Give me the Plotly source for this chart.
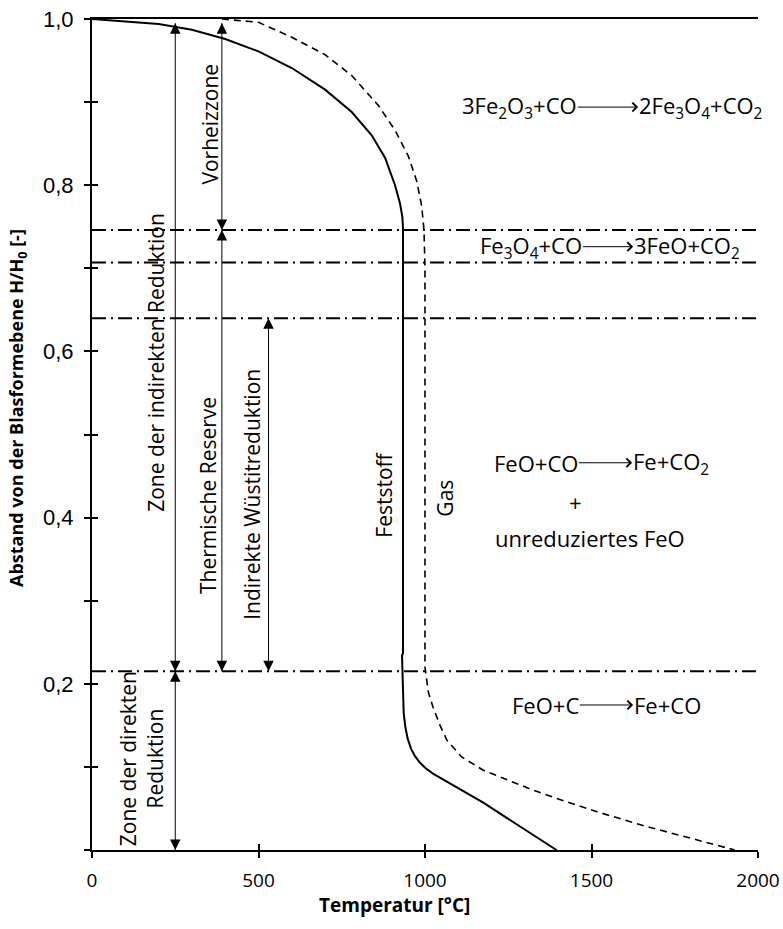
import plotly.graph_objects as go

# ---------------- data ----------------
solid_T = [0, 100, 200, 300, 400, 500, 600, 700, 780, 840, 880, 910, 925, 932, 934,
           934, 934, 931, 932, 933, 936, 941, 948, 958, 970, 985, 1003, 1024, 1050, 1075, 1175, 1275, 1395]
solid_H = [1.0, 0.997, 0.994, 0.987, 0.976, 0.961, 0.941, 0.915, 0.888, 0.860, 0.833, 0.800, 0.778, 0.762, 0.748,
           0.500, 0.237, 0.234, 0.215, 0.190, 0.165, 0.148, 0.134, 0.122, 0.113, 0.105, 0.098, 0.092, 0.086, 0.080,
           0.057, 0.031, 0.0]

gas_T = [390, 500, 600, 700, 780, 860, 910, 950, 975, 990, 997, 1000, 1000,
         1003, 1010, 1024, 1045, 1066, 1110, 1175, 1250, 1325, 1425, 1525, 1650, 1800, 1930]
gas_H = [1.0, 0.996, 0.978, 0.957, 0.932, 0.896, 0.866, 0.835, 0.805, 0.775, 0.746, 0.700, 0.220,
         0.210, 0.190, 0.172, 0.150, 0.132, 0.112, 0.096, 0.084, 0.072, 0.058, 0.045, 0.030, 0.014, 0.0]

zone_bounds = [0.746, 0.707, 0.640, 0.215]

x_ticks = [0, 500, 1000, 1500, 2000]
y_major = [0.2, 0.4, 0.6, 0.8, 1.0]
y_major_text = ["0,2", "0,4", "0,6", "0,8", "1,0"]
y_minor = [0.0, 0.1, 0.3, 0.5, 0.7, 0.9]

# dimension arrows: (temperature, H top, H bottom)
dim_arrows = [(250, 0.995, 0.215), (250, 0.215, 0.0), (390, 0.995, 0.746),
              (390, 0.746, 0.215), (530, 0.640, 0.215)]

# rotated labels: (text, T, H)
zone_labels = [
    ("Zone der indirekten Reduktion", 194, 0.587),
    ("Vorheizzone", 354, 0.874),
    ("Thermische Reserve", 348, 0.427),
    ("Indirekte Wüstitreduktion", 482, 0.428),
    ("Feststoff", 878, 0.428),
    ("Gas", 1060, 0.424),
    ("Zone der direkten<br>Reduktion", 149, 0.110),
]

# reactions: (left, right, arrow T start, arrow T end, H)
reactions = [
    ("3Fe<sub>2</sub>O<sub>3</sub>+CO", "2Fe<sub>3</sub>O<sub>4</sub>+CO<sub>2</sub>", 1459, 1640, 0.894),
    ("Fe<sub>3</sub>O<sub>4</sub>+CO", "3FeO+CO<sub>2</sub>", 1474, 1625, 0.726),
    ("FeO+CO", "Fe+CO<sub>2</sub>", 1462, 1622, 0.466),
    ("FeO+C", "Fe+CO", 1465, 1625, 0.1745),
]
extra_texts = [("+", 1453, 0.419), ("unreduziertes FeO", 1494, 0.3755)]

FONT = "Open Sans"

fig = go.Figure()

fig.add_trace(go.Scatter(x=solid_T, y=solid_H, mode="lines",
                         line=dict(color="black", width=2), showlegend=False, hoverinfo="skip"))
fig.add_trace(go.Scatter(x=gas_T, y=gas_H, mode="lines",
                         line=dict(color="black", width=1.6, dash="7px,5px"), showlegend=False, hoverinfo="skip"))

for h in zone_bounds:
    fig.add_trace(go.Scatter(x=[x_ticks[0], x_ticks[-1]], y=[h, h], mode="lines",
                             line=dict(color="black", width=2, dash="14px,5px,2px,5px"),
                             showlegend=False, hoverinfo="skip"))

# dimension arrows as lines with arrow markers at both ends
for (t, h0, h1) in dim_arrows:
    fig.add_trace(go.Scatter(x=[t, t], y=[h0, h1], mode="lines+markers",
                             line=dict(color="black", width=1),
                             marker=dict(symbol=["arrow-up", "arrow-down"], size=10.5, color="black",
                                         line=dict(width=0)),
                             cliponaxis=False, showlegend=False, hoverinfo="skip"))

# invisible traces for overlay axes
fig.add_trace(go.Scatter(x=[0], y=[0], xaxis="x2", yaxis="y2", mode="markers",
                         marker=dict(opacity=0), showlegend=False, hoverinfo="skip"))
fig.add_trace(go.Scatter(x=[0], y=[0], xaxis="x3", yaxis="y", mode="markers",
                         marker=dict(opacity=0), showlegend=False, hoverinfo="skip"))

ann = []
for (txt, t, h) in zone_labels:
    ann.append(dict(x=t, y=h, xref="x", yref="y", text=txt, showarrow=False, textangle=-90,
                    font=dict(family=FONT, size=21, color="black"), xanchor="center", yanchor="middle"))

for (left, right, t0, t1, h) in reactions:
    ann.append(dict(x=t1, y=h, ax=t0, ay=h, xref="x", yref="y", axref="x", ayref="y",
                    text=left, showarrow=True, arrowhead=4, arrowsize=1.7, arrowwidth=1,
                    arrowcolor="black", xanchor="right", yanchor="middle", borderpad=0,
                    font=dict(family=FONT, size=22, color="black")))
    ann.append(dict(x=t1, y=h, xref="x", yref="y", text=right, showarrow=False, borderpad=0,
                    font=dict(family=FONT, size=22, color="black"), xanchor="left", yanchor="middle"))

for (txt, t, h) in extra_texts:
    ann.append(dict(x=t, y=h, xref="x", yref="y", text=txt, showarrow=False,
                    font=dict(family=FONT, size=22, color="black"), xanchor="center", yanchor="middle"))

# axis titles
ann.append(dict(x=-0.111, y=0.532, xref="paper", yref="y",
                text="<b>Abstand von der Blasformebene H/H<sub>0</sub> [-]</b>",
                showarrow=False, textangle=-90, font=dict(family=FONT, size=18, color="black"),
                xanchor="center", yanchor="middle"))
ann.append(dict(x=907, y=-0.066, xref="x", yref="paper", text="<b>Temperatur [°C]</b>",
                showarrow=False, font=dict(family=FONT, size=19, color="black"),
                xanchor="center", yanchor="middle"))

tick_style = dict(ticklen=6, tickwidth=1.5, tickcolor="black")

fig.update_layout(
    template="none",
    width=783, height=929,
    margin=dict(l=92, r=25, t=19, b=79, autoexpand=False),
    paper_bgcolor="white", plot_bgcolor="white",
    showlegend=False,
    annotations=ann,
    xaxis=dict(range=[0, 2000], tickvals=x_ticks, ticktext=[str(v) for v in x_ticks], automargin=False,
               showgrid=False, zeroline=False, showline=True, linecolor="black", linewidth=2,
               ticks="outside", **tick_style, ticklabeloverflow="allow",
               tickfont=dict(family=FONT, size=19, color="black"), ticklabelstandoff=6),
    xaxis2=dict(range=[0, 2000], overlaying="x", side="top", anchor="y2", showgrid=False, automargin=False,
                zeroline=False, showline=True, linecolor="black", linewidth=2,
                showticklabels=False, ticks=""),
    xaxis3=dict(range=[0, 2000], overlaying="x", side="bottom", anchor="y", tickvals=x_ticks, automargin=False,
                showgrid=False, zeroline=False, showline=False, showticklabels=False,
                ticks="inside", **tick_style),
    yaxis=dict(range=[0, 1], tickvals=y_major, ticktext=y_major_text, automargin=False,
               showgrid=False, zeroline=False, showline=True, linecolor="black", linewidth=2,
               ticks="outside", **tick_style, ticklabeloverflow="allow",
               minor=dict(tickvals=y_minor, ticks="outside", showgrid=False, **tick_style),
               tickfont=dict(family="Liberation Sans", size=22, color="black"), ticklabelstandoff=6),
    yaxis2=dict(range=[0, 1], overlaying="y", side="left", anchor="x2", tickvals=y_major, automargin=False,
                showgrid=False, zeroline=False, showline=False, showticklabels=False,
                ticks="inside", **tick_style,
                minor=dict(tickvals=y_minor, ticks="inside", showgrid=False, **tick_style)),
)

fig.write_html("out.html", config={"displayModeBar": False},
               post_script="document.body.style.margin='0';")
